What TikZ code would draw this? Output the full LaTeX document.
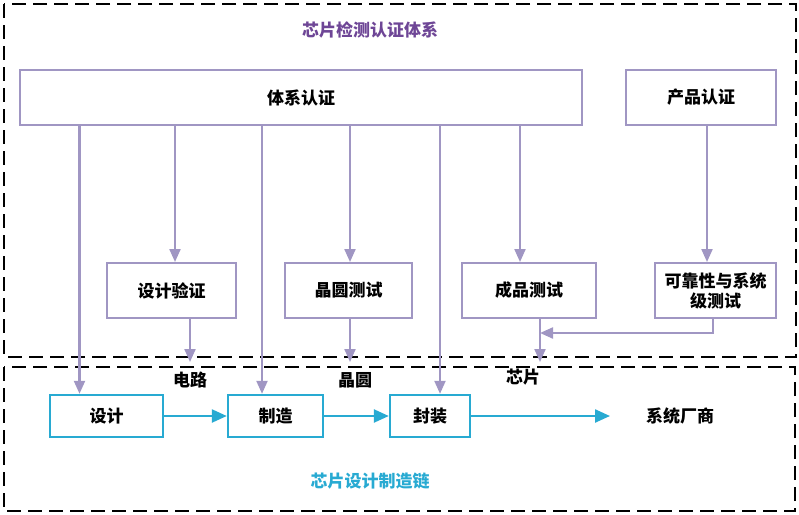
\documentclass[tikz,border=0pt]{standalone}
\usepackage{fontspec}
\setmainfont{Noto Sans CJK SC}
\usetikzlibrary{arrows.meta}
\definecolor{lav}{RGB}{160,150,195}
\definecolor{chain}{RGB}{40,170,210}
\definecolor{titlep}{RGB}{110,70,150}
\tikzset{
  pbox/.style={draw=lav,line width=2pt,fill=white,font=\fontsize{17}{20}\selectfont\bfseries},
  cbox/.style={draw=chain,line width=2.4pt,fill=white,font=\fontsize{17}{20}\selectfont\bfseries},
  parr/.style={lav,line width=2.2pt,-{Triangle[length=13pt,width=11pt]}},
  carr/.style={chain,line width=2.4pt,-{Triangle[length=15pt,width=13pt]}},
  frame/.style={line width=2.2pt,dash pattern=on 14pt off 7pt},
  lbl/.style={font=\fontsize{17}{20}\selectfont\bfseries}
}
\begin{document}
\begin{tikzpicture}[x=1pt,y=-1pt]
\useasboundingbox (0,0) rectangle (799,514);
% frames
\draw[frame] (4,4) rectangle (796,357);
\draw[frame] (4,367) rectangle (795,511);
\node[font=\fontsize{17}{20}\selectfont\bfseries,text=titlep] (title) at (370,30) {芯片检测认证体系};
\node[font=\fontsize{17}{20}\selectfont\bfseries,text=chain] (chaintitle) at (370,481) {芯片设计制造链};
% certification
\node[pbox,minimum width=562pt,minimum height=55pt] (sys) at (301,97.5) {体系认证};
\node[pbox,minimum width=150pt,minimum height=55pt] (prod) at (701,97.5) {产品认证};
\node[pbox,minimum width=129pt,minimum height=55pt] (dv) at (171.5,290.5) {设计验证};
\node[pbox,minimum width=127pt,minimum height=55pt] (wt) at (348.5,290.5) {晶圆测试};
\node[pbox,minimum width=134pt,minimum height=55pt] (ft) at (529,290.5) {成品测试};
\node[pbox,minimum width=121pt,minimum height=55pt,inner sep=2pt,align=center] (rt) at (715.5,290.5) {可靠性与系统\\级测试};
% chain
\node[cbox,minimum width=113pt,minimum height=42pt] (des) at (106.5,416) {设计};
\node[cbox,minimum width=95pt,minimum height=42pt] (fab) at (275.5,416) {制造};
\node[cbox,minimum width=80pt,minimum height=42pt] (pkg) at (430,416) {封装};
\node[lbl] (sv) at (680,416) {系统厂商};
\node[lbl] (cir) at (190,380) {电路};
\node[lbl] (waf) at (355,380) {晶圆};
\node[lbl] (chip) at (523,377) {芯片};
\coordinate (cirtip) at (190,362);
\coordinate (waftip) at (350,362);
\coordinate (chiptip) at (540,362);
\coordinate (join) at (540,333);
% arrows
\draw[parr] (sys.south -| des.north) ++(-27,0) coordinate (a1) -- (a1 |- des.north);
\draw[parr] (sys.south -| 175,0) -- (dv.north -| 175,0);
\draw[parr] (sys.south -| 262,0) -- (fab.north -| 262,0);
\draw[parr] (sys.south -| 350,0) -- (wt.north -| 350,0);
\draw[parr] (sys.south -| 440,0) -- (pkg.north -| 440,0);
\draw[parr] (sys.south -| 520,0) -- (ft.north -| 520,0);
\draw[parr] (prod.south -| 707,0) -- (rt.north -| 707,0);
\draw[parr] (dv.south -| cirtip) -- (cirtip);
\draw[parr] (wt.south -| waftip) -- (waftip);
\draw[parr] (ft.south -| chiptip) -- (chiptip);
\draw[parr] (rt.south -| 713,0) |- (join);
\draw[carr] (des) -- (fab);
\draw[carr] (fab) -- (pkg);
\draw[carr] (pkg) -- (sv.west -| 610,0);
\end{tikzpicture}
\end{document}
